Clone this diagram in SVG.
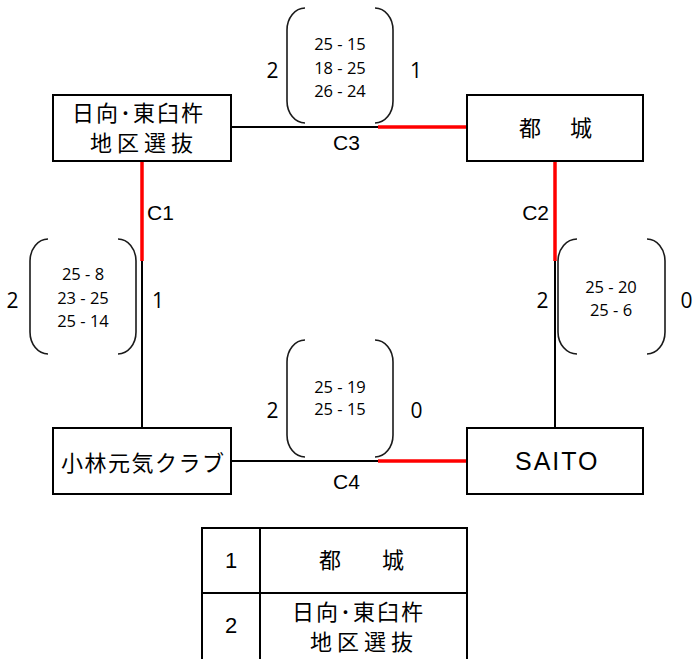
<svg xmlns="http://www.w3.org/2000/svg" width="700" height="659" viewBox="0 0 700 659">
<style>
.box{fill:#fff;stroke:#000;stroke-width:2}
.ln{stroke:#000;stroke-width:2;fill:none}
.red{stroke:#ff0000;stroke-width:3.5;fill:none}
.br{stroke:#1a1a1a;stroke-width:1.6;fill:none}
.jp{font-family:"Noto Sans CJK JP","Noto Sans CJK SC",sans-serif;font-size:22px;fill:#000}
.lat{font-family:"Liberation Sans",Arial,sans-serif;fill:#000}
.sc{font-family:"Open Sans","Liberation Sans",sans-serif;font-size:16.5px;fill:#000;text-anchor:middle}
.big{font-family:"Open Sans","Liberation Sans",sans-serif;font-size:21px;fill:#000;text-anchor:middle}
</style>
<rect width="700" height="659" fill="#fff"/>
<g id="connectors">
<line class="ln" x1="231" y1="127" x2="378" y2="127"/>
<line class="red" x1="378" y1="127" x2="467" y2="127"/>
<line class="red" x1="142" y1="161" x2="142" y2="261"/>
<line class="ln" x1="142" y1="261" x2="142" y2="428"/>
<line class="red" x1="555" y1="161" x2="555" y2="261"/>
<line class="ln" x1="555" y1="261" x2="555" y2="428"/>
<line class="ln" x1="231" y1="461" x2="378" y2="461"/>
<line class="red" x1="378" y1="461" x2="467" y2="461"/>
<text class="lat" x="333" y="150" font-size="21">C3</text>
<text class="lat" x="147" y="220" font-size="21">C1</text>
<text class="lat" x="549" y="220" font-size="21" text-anchor="end">C2</text>
<text class="lat" x="333" y="489" font-size="21">C4</text>
</g>
<g id="node-hyuga">
<rect class="box" x="53" y="95" width="178" height="66"/>
<text class="jp" x="72" y="121" letter-spacing="2">日向･東臼杵</text>
<text class="jp" x="90" y="151" letter-spacing="5">地区選抜</text>
</g>
<g id="node-miyakonojo">
<rect class="box" x="467" y="95" width="176" height="66"/>
<text class="jp" x="519" y="136" letter-spacing="3.5">都　城</text>
</g>
<g id="node-kobayashi">
<rect class="box" x="53" y="428" width="178" height="66"/>
<text class="jp" x="61" y="471" letter-spacing="1.5">小林元気クラブ</text>
</g>
<g id="node-saito">
<rect class="box" x="467" y="428" width="176" height="66"/>
<text class="lat" x="515" y="470" font-size="25" letter-spacing="2">SAITO</text>
</g>
<g id="score-c3">
<path class="br" d="M305 8 A18 22 0 0 0 287 30 V101 A18 22 0 0 0 305 123"/>
<path class="br" d="M375 8 A18 22 0 0 1 393 30 V101 A18 22 0 0 1 375 123"/>
<text class="sc" x="340" y="50">25 - 15</text>
<text class="sc" x="340" y="74">18 - 25</text>
<text class="sc" x="340" y="97">26 - 24</text>
<text class="big" x="272.5" y="78">2</text>
<text class="big" x="416" y="78">1</text>
</g>
<g id="score-c1">
<path class="br" d="M48 239 A18 22 0 0 0 30 261 V332 A18 22 0 0 0 48 354"/>
<path class="br" d="M118 239 A18 22 0 0 1 136 261 V332 A18 22 0 0 1 118 354"/>
<text class="sc" x="83" y="280">25 - 8</text>
<text class="sc" x="83" y="304">23 - 25</text>
<text class="sc" x="83" y="327">25 - 14</text>
<text class="big" x="12.5" y="308">2</text>
<text class="big" x="158" y="308">1</text>
</g>
<g id="score-c2">
<path class="br" d="M577 239 A19 22 0 0 0 558 261 V332 A19 22 0 0 0 577 354"/>
<path class="br" d="M647 239 A18 22 0 0 1 665 261 V332 A18 22 0 0 1 647 354"/>
<text class="sc" x="611" y="293">25 - 20</text>
<text class="sc" x="611" y="316">25 - 6</text>
<text class="big" x="542.5" y="308">2</text>
<text class="big" x="686.5" y="308">0</text>
</g>
<g id="score-c4">
<path class="br" d="M305 340 A18 22 0 0 0 287 362 V435 A18 22 0 0 0 305 457"/>
<path class="br" d="M375 340 A18 22 0 0 1 393 362 V435 A18 22 0 0 1 375 457"/>
<text class="sc" x="340" y="393">25 - 19</text>
<text class="sc" x="340" y="415">25 - 15</text>
<text class="big" x="272.5" y="418">2</text>
<text class="big" x="416.5" y="418">0</text>
</g>
<g id="ranking-table">
<path class="ln" d="M202 659 V528 H467 V659 M260 528 V659 M202 593 H467"/>
<text class="lat" x="231" y="568" font-size="22" text-anchor="middle">1</text>
<text class="jp" x="319" y="568" letter-spacing="9.5">都　城</text>
<text class="lat" x="231" y="633" font-size="22" text-anchor="middle">2</text>
<text class="jp" x="292" y="620" letter-spacing="2">日向･東臼杵</text>
<text class="jp" x="310" y="650" letter-spacing="5">地区選抜</text>
</g>
</svg>
